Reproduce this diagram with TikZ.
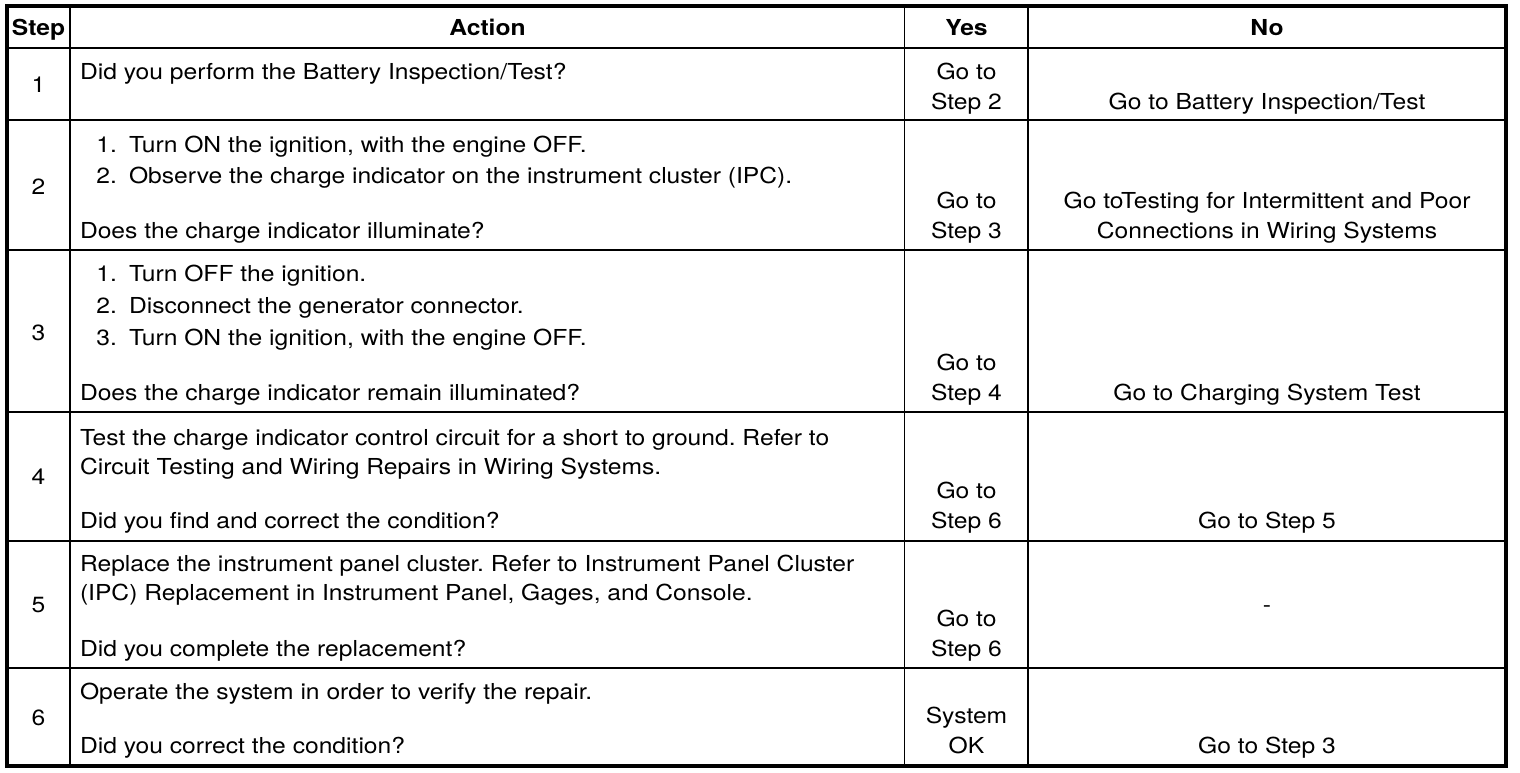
\documentclass[tikz,border=0pt]{standalone}
\usepackage{fontspec}
\setmainfont{TeX Gyre Heros}[FakeStretch=1.12]
\begin{document}
\frenchspacing
\begin{tikzpicture}[x=1pt,y=-1pt,
  txt/.style={inner sep=0pt, outer sep=0pt, font=\fontsize{22}{26}\selectfont},
  lt/.style={txt, anchor=base west},
  ct/.style={txt, anchor=base},
  nt/.style={txt, anchor=base east},
  hd/.style={txt, anchor=base, font=\fontsize{22}{26}\selectfont\bfseries},
  frame/.style={line width=4pt},
  hline/.style={line width=2.4pt},
  grid/.style={line width=1.7pt}]
\useasboundingbox (0,0) rectangle (1520,772);
% coordinates of the table
\coordinate (TL) at (7,6);
\coordinate (BR) at (1505.5,766);
\draw[frame] (TL) rectangle (BR);
\coordinate (h0) at (7,48);   \coordinate (h1) at (1505.5,48);
\draw[hline] (h0) -- (h1);
\foreach \yy/\nm in {120/ra,250/rb,412/rc,541/rd,668/re}{
  \coordinate (\nm0) at (7,\yy); \coordinate (\nm1) at (1505.5,\yy);
  \draw[grid] (\nm0) -- (\nm1);
}
\foreach \xx/\nm in {70/ca,904.5/cb,1028/cc}{
  \coordinate (\nm0) at (\xx,6); \coordinate (\nm1) at (\xx,766);
  \draw[grid] (\nm0) -- (\nm1);
}
% header
\node[hd] (hstep) at (38.5,35) {Step};
\node[hd] (hact) at (487.5,35) {Action};
\node[hd] (hyes) at (966.5,35) {Yes};
\node[hd] (hno) at (1267,35) {No};
% step numbers
\node[txt] (s1) at (38.5,85) {1};
\node[txt] (s2) at (38.5,187) {2};
\node[txt] (s3) at (38.5,333) {3};
\node[txt] (s4) at (38.5,477) {4};
\node[txt] (s5) at (38.5,605) {5};
\node[txt] (s6) at (38.5,718) {6};
% row 1
\node[lt] (a1a) at (80,79) {Did you perform the Battery Inspection/Test?};
\node[ct] (y1a) at (966.5,79) {Go to};
\node[ct] (y1b) at (966.5,109) {Step 2};
\node[ct] (n1a) at (1267,109) {Go to Battery Inspection/Test};
% row 2
\node[nt] (a2n1) at (117,152) {1.};
\node[lt] (a2a) at (129,152) {Turn ON the ignition, with the engine OFF.};
\node[nt] (a2n2) at (117,183) {2.};
\node[lt] (a2b) at (129,183) {Observe the charge indicator on the instrument cluster (IPC).};
\node[lt] (a2c) at (80,238) {Does the charge indicator illuminate?};
\node[ct] (y2a) at (966.5,208) {Go to};
\node[ct] (y2b) at (966.5,238) {Step 3};
\node[ct] (n2a) at (1267,208) {Go toTesting for Intermittent and Poor};
\node[ct] (n2b) at (1267,238) {Connections in Wiring Systems};
% row 3
\node[nt] (a3n1) at (117,281) {1.};
\node[lt] (a3a) at (129,281) {Turn OFF the ignition.};
\node[nt] (a3n2) at (117,313) {2.};
\node[lt] (a3b) at (129,313) {Disconnect the generator connector.};
\node[nt] (a3n3) at (117,345) {3.};
\node[lt] (a3c) at (129,345) {Turn ON the ignition, with the engine OFF.};
\node[lt] (a3d) at (80,400) {Does the charge indicator remain illuminated?};
\node[ct] (y3a) at (966.5,370) {Go to};
\node[ct] (y3b) at (966.5,400) {Step 4};
\node[ct] (n3a) at (1267,400) {Go to Charging System Test};
% row 4
\node[lt] (a4a) at (80,445) {Test the charge indicator control circuit for a short to ground. Refer to};
\node[lt] (a4b) at (80,474) {Circuit Testing and Wiring Repairs in Wiring Systems.};
\node[lt] (a4c) at (80,528) {Did you find and correct the condition?};
\node[ct] (y4a) at (966.5,498) {Go to};
\node[ct] (y4b) at (966.5,528) {Step 6};
\node[ct] (n4a) at (1267,528) {Go to Step 5};
% row 5
\node[lt] (a5a) at (80,571) {Replace the instrument panel cluster. Refer to Instrument Panel Cluster};
\node[lt] (a5b) at (80,600) {(IPC) Replacement in Instrument Panel, Gages, and Console.};
\node[lt] (a5c) at (80,656) {Did you complete the replacement?};
\node[ct] (y5a) at (966.5,626) {Go to};
\node[ct] (y5b) at (966.5,656) {Step 6};
\node[ct] (n5a) at (1267,612) {-};
% row 6
\node[lt] (a6a) at (80,699) {Operate the system in order to verify the repair.};
\node[lt] (a6b) at (80,753) {Did you correct the condition?};
\node[ct] (y6a) at (966.5,723) {System};
\node[ct] (y6b) at (966.5,753) {OK};
\node[ct] (n6a) at (1267,753) {Go to Step 3};
\end{tikzpicture}
\end{document}
